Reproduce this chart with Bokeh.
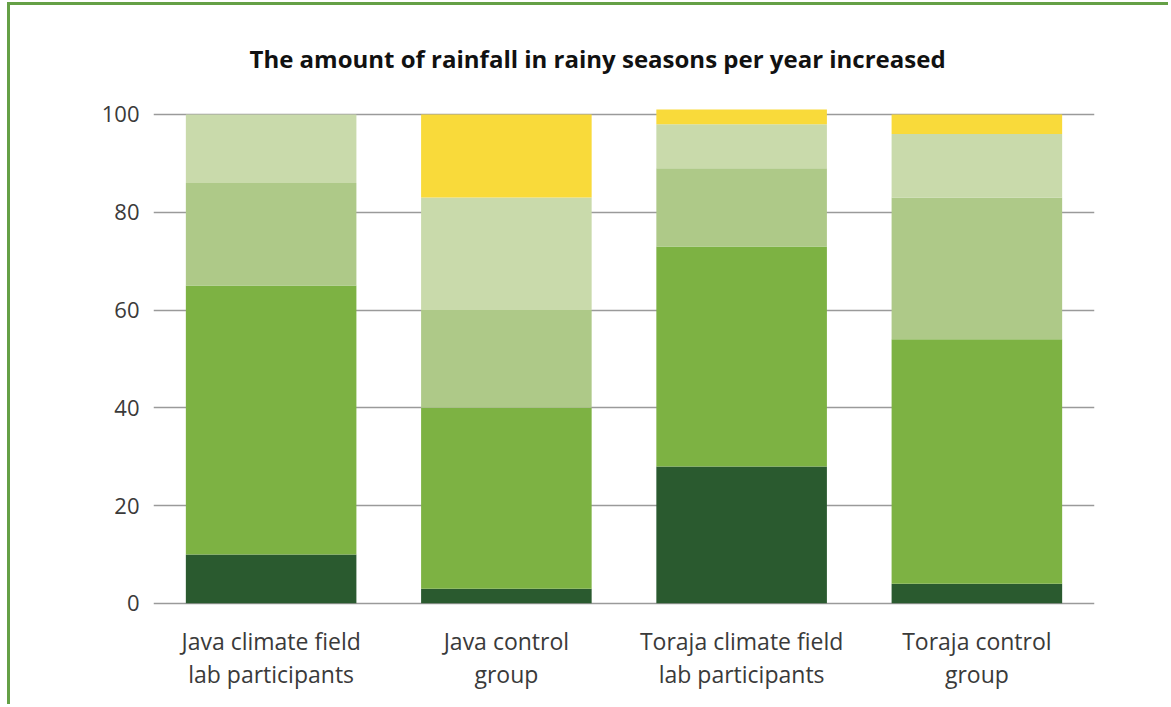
from bokeh.plotting import figure
from bokeh.models import FactorRange, Range1d, FixedTicker, ColumnDataSource
from bokeh.core.properties import value
from bokeh.embed import file_html
from bokeh.resources import INLINE

# Survey groups (x categories) and their two-line labels
groups = ["Java climate field lab participants", "Java control group",
          "Toraja climate field lab participants", "Toraja control group"]
label_line_1 = ["Java climate field", "Java control",
                "Toraja climate field", "Toraja control"]
label_line_2 = ["lab participants", "group",
                "lab participants", "group"]

# Share of answers per group (%), stacked bottom to top
level_1 = [10, 3, 28, 4]
level_2 = [55, 37, 45, 50]
level_3 = [21, 20, 16, 29]
level_4 = [14, 23, 9, 13]
level_5 = [0, 17, 3, 4]

y_ticks = [0, 20, 40, 60, 80, 100]

levels = ["level_1", "level_2", "level_3", "level_4", "level_5"]
colors = ["#2a5a2f", "#7db243", "#aec988", "#c9daab", "#f9da3a"]

data = dict(group=groups, level_1=level_1, level_2=level_2,
            level_3=level_3, level_4=level_4, level_5=level_5)

FRAME_GREEN = "#65a046"
TEXT_GREY = "#3a3a3a"

p = figure(
    x_range=FactorRange(*groups, range_padding=0),
    y_range=Range1d(-21.3, 104.9),
    width=1161, height=702,
    output_backend="svg", toolbar_location=None,
    title="The amount of rainfall in rainy seasons per year increased",
    min_border_left=143, min_border_right=77,
    min_border_top=85, min_border_bottom=0,
)
p.styles = {
    "margin-left": "7px", "margin-top": "2px",
    "border-left": f"3px solid {FRAME_GREEN}",
    "border-top": f"3px solid {FRAME_GREEN}",
}

p.vbar_stack(levels, x="group", width=0.725, color=colors,
             line_color=None, source=data)

# Two-line category labels under each bar
labels = ColumnDataSource(dict(group=groups, line_1=label_line_1,
                               line_2=label_line_2))
for col, y in (("line_1", -7.6), ("line_2", -14.4)):
    p.text(x="group", y=y, text=col, source=labels,
           text_font=value("Open Sans"), text_font_size="23px",
           text_color=TEXT_GREY, text_align="center",
           text_baseline="middle")

# Title
p.title.text_font = "Open Sans"
p.title.text_font_style = "bold"
p.title.text_font_size = "24px"
p.title.text_color = "#111111"
p.title.align = "left"
p.title.offset = 96
p.title.standoff = 32

p.outline_line_color = None
p.background_fill_color = "white"
p.border_fill_color = "white"

# Axes
p.yaxis.ticker = FixedTicker(ticks=y_ticks)
p.yaxis.axis_line_color = None
p.yaxis.major_tick_line_color = None
p.yaxis.minor_tick_line_color = None
p.yaxis.major_label_standoff = 8
p.yaxis.major_label_text_font = "Open Sans"
p.yaxis.major_label_text_font_size = "22px"
p.yaxis.major_label_text_color = TEXT_GREY

p.xaxis.visible = False

p.xgrid.grid_line_color = None
p.ygrid.ticker = FixedTicker(ticks=y_ticks)
p.ygrid.grid_line_color = "#9a9a9a"
p.ygrid.grid_line_width = 1.3

open("out.html", "w").write(file_html(p, INLINE))
